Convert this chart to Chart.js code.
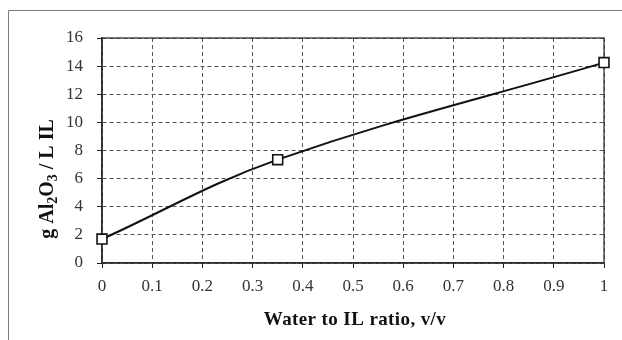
<!DOCTYPE html>
<html>
<head>
<meta charset="utf-8">
<script src="https://cdn.jsdelivr.net/npm/chart.js@4/dist/chart.umd.min.js"></script>
<style>
  html, body { margin: 0; padding: 0; background: #fff; }
  #wrap { width: 622px; height: 340px; position: relative; }
</style>
</head>
<body>
<div id="wrap"><canvas id="c" width="622" height="340"></canvas></div>
<script>
// Measured alumina solubility against water content of the ionic liquid
const waterToIL = [0, 0.35, 1];
const aluminaPerLitre = [1.7, 7.35, 14.25];

// Axis ranges and tick spacing
const xRange = [0, 1];
const xStep = 0.1;
const yRange = [0, 16];
const yStep = 2;

const xTitle = 'Water to IL ratio, v/v';
// Y title pieces: [text, isSubscript]
const yTitleParts = [['g Al', false], ['2', true], ['O', false], ['3', true], [' / L IL', false]];

const serif = "'Liberation Serif', 'Times New Roman', serif";

const decorations = {
  id: 'decorations',
  beforeDraw(chart) {
    const ctx = chart.ctx;
    ctx.save();
    ctx.strokeStyle = '#7a7a7a';
    ctx.lineWidth = 1;
    ctx.beginPath();
    ctx.moveTo(8.5, 340);
    ctx.lineTo(8.5, 10.5);
    ctx.lineTo(622, 10.5);
    ctx.stroke();
    ctx.restore();
  },
  beforeDatasetsDraw(chart) {
    const { ctx, chartArea: a } = chart;
    ctx.save();
    ctx.strokeStyle = '#333';
    ctx.lineWidth = 1.3;
    ctx.strokeRect(a.left, a.top, a.right - a.left, a.bottom - a.top);
    ctx.restore();
  },
  afterDraw(chart) {
    const { ctx, chartArea: a } = chart;
    ctx.save();
    ctx.fillStyle = '#111';

    // x axis title
    ctx.font = 'bold 19px ' + serif;
    ctx.letterSpacing = '0.4px';
    ctx.textAlign = 'center';
    ctx.textBaseline = 'alphabetic';
    ctx.fillText(xTitle, (a.left + a.right) / 2 + 2, 325);
    ctx.letterSpacing = '0px';

    // y axis title with subscripts, rotated
    const mainFont = 'bold 20px ' + serif;
    const subFont = 'bold 14px ' + serif;
    let total = 0;
    const widths = yTitleParts.map(([t, sub]) => {
      ctx.font = sub ? subFont : mainFont;
      const w = ctx.measureText(t).width;
      total += w;
      return w;
    });
    ctx.translate(46, 179);
    ctx.rotate(-Math.PI / 2);
    ctx.textAlign = 'left';
    ctx.textBaseline = 'alphabetic';
    let x = -total / 2;
    const base = 7;
    yTitleParts.forEach(([t, sub], i) => {
      ctx.font = sub ? subFont : mainFont;
      ctx.fillText(t, x, sub ? base + 4 : base);
      x += widths[i];
    });
    ctx.restore();
  }
};

new Chart(document.getElementById('c'), {
  type: 'line',
  data: {
    datasets: [{
      data: waterToIL.map((x, i) => ({ x, y: aluminaPerLitre[i] })),
      borderColor: '#111',
      borderWidth: 2,
      tension: 0.38,
      pointStyle: 'rect',
      pointRadius: 7,
      pointBorderWidth: 1.6,
      pointBorderColor: '#111',
      pointBackgroundColor: '#fff',
      clip: false
    }]
  },
  options: {
    responsive: false,
    animation: false,
    events: [],
    layout: { padding: { left: 0, top: 38, right: 18, bottom: 0 } },
    plugins: { legend: { display: false }, tooltip: { enabled: false } },
    scales: {
      x: {
        type: 'linear',
        min: xRange[0],
        max: xRange[1],
        afterFit(scale) { scale.height = 77; },
        ticks: {
          stepSize: xStep,
          padding: 8,
          maxRotation: 0,
          autoSkip: false,
          color: '#333',
          font: { family: serif, size: 17 },
          callback: v => String(+v.toFixed(1))
        },
        grid: { color: '#555', lineWidth: 1, tickLength: 5, tickColor: '#222', tickWidth: 1 },
        border: { display: true, color: '#222', width: 1.5, dash: [4, 3] }
      },
      y: {
        min: yRange[0],
        max: yRange[1],
        afterFit(scale) { scale.width = 102; },
        ticks: {
          stepSize: yStep,
          padding: 14,
          color: '#333',
          font: { family: serif, size: 17 }
        },
        grid: { color: '#555', lineWidth: 1, tickLength: 5, tickColor: '#222', tickWidth: 1 },
        border: { display: true, color: '#222', width: 1.5, dash: [4, 3] }
      }
    }
  },
  plugins: [decorations]
});
</script>
</body>
</html>
